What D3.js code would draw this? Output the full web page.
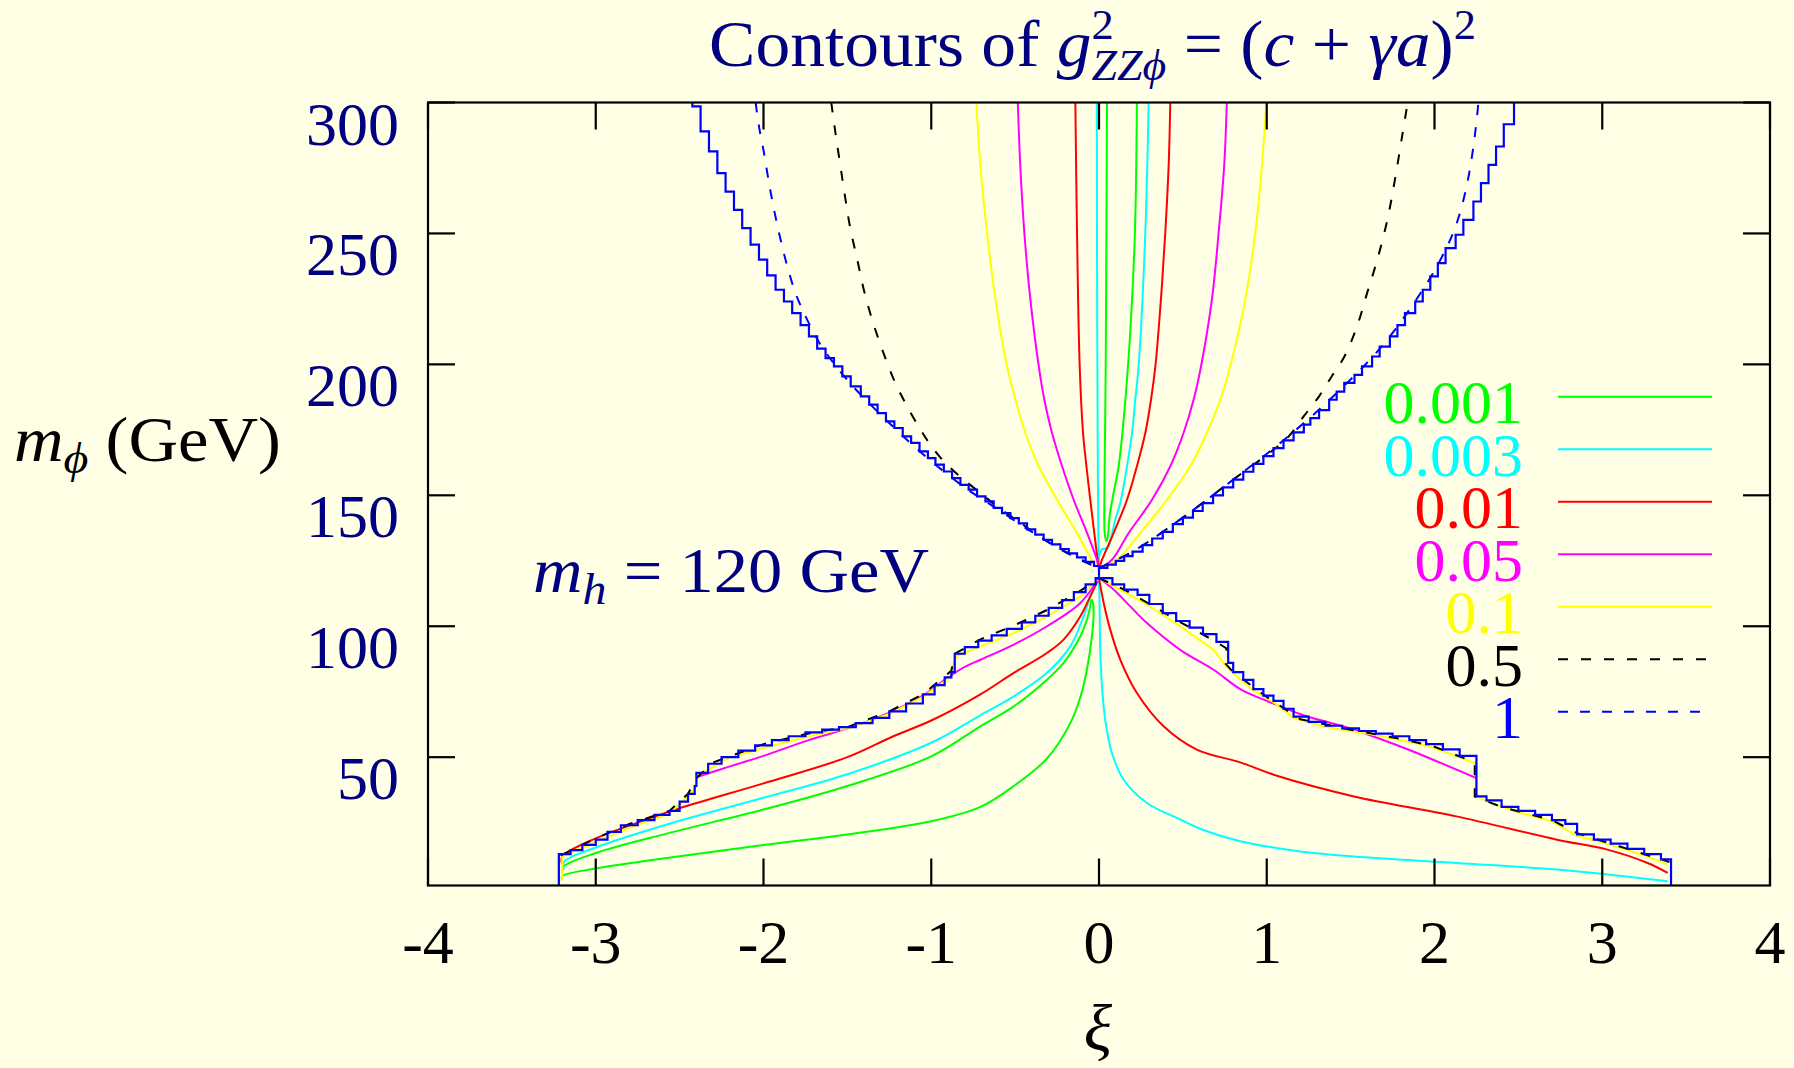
<!DOCTYPE html>
<html><head><meta charset="utf-8">
<script src="https://cdn.jsdelivr.net/npm/d3@7"></script>
<style>body{margin:0;background:#ffffe6;} svg{display:block;} text{white-space:pre;}</style>
</head><body><svg id="c" width="1794" height="1068"></svg>
<script>
// ---------------- data (xi, m_phi in GeV) ----------------
const xTicks = [-4,-3,-2,-1,0,1,2,3,4];
const yTicks = [50,100,150,200,250,300];
const levels = ["0.001","0.003","0.01","0.05","0.1","0.5","1"];

const green_upper = [[0.226,300],[0.214,250.2],[0.186,212],[0.147,178.9],[0.117,161],[0.087,150.9],[0.063,142],[0.053,134.3],[0.045,132.5],[0.034,135.6],[0.032,148.3],[0.036,173.8],[0.04,199.2],[0.044,250.2],[0.048,300]];
const green_lower = [[-3.2,3],[-3.2,4.5],[-3.0,7.5],[-2.5,12.2],[-2.0,16.5],[-1.5,20.5],[-1.0,25.5],[-0.707,31],[-0.508,39],[-0.31,49.5],[-0.171,63],[-0.111,73],[-0.072,83.4],[-0.042,96.2],[-0.032,106],[-0.038,109.5],[-0.045,110.1],[-0.052,107.6],[-0.072,102.5],[-0.111,96.2],[-0.211,86],[-0.31,79.6],[-0.508,69.4],[-0.707,61.8],[-1.0,50.3],[-1.5,39],[-2.0,30],[-2.566,21],[-3.0,13.4],[-3.19,8.3],[-3.2,6]];

const cyan_upper = [[0.296,300],[0.276,250.2],[0.236,199.2],[0.216,186.5],[0.197,173.8],[0.167,161.1],[0.127,147.1],[0.097,140.7],[0.067,132.4],[0.051,129.9],[0.018,129.3],[0.006,128],[0.0,126.5],[-0.004,135],[-0.008,173.8],[-0.012,250],[-0.013,300]];
const cyan_lower_left = [[-3.19,7],[-3.19,10],[-3.0,15.5],[-2.566,24.5],[-2.0,34.5],[-1.5,43.5],[-1.0,55.5],[-0.707,66],[-0.508,73.2],[-0.31,82.2],[-0.171,92.3],[-0.092,103.8],[-0.052,111.4],[-0.032,115.3],[0,118.4]];
const cyan_lower_right = [[0,126.5],[0,118.4],[0.003,110],[0.008,89.8],[0.018,77],[0.037,64.3],[0.077,51.6],[0.147,41.4],[0.286,32.5],[0.484,26.2],[0.618,22.3],[0.842,17.9],[1.2,14],[1.52,12.1],[2.13,9.6],[2.73,7.1],[3.03,5.2],[3.39,2.6]];

const red_upper = [[0.425,300],[0.415,275.6],[0.395,250.2],[0.369,224.7],[0.336,199.2],[0.31,186.5],[0.276,173.8],[0.226,161.1],[0.167,148.3],[0.087,135.6],[0.018,125.4],[0,122.3],[-0.008,125.4],[-0.028,135.6],[-0.052,148.3],[-0.075,161.1],[-0.095,173.8],[-0.115,199.2],[-0.131,250.2],[-0.141,300]];
const red_lower_left = [[-3.2,9],[-3.2,12],[-3.0,19],[-2.75,25],[-2.5,30.5],[-2.0,40],[-1.5,50],[-1.226,58],[-1.0,64],[-0.707,74],[-0.508,82.2],[-0.31,89.8],[-0.211,94.9],[-0.111,103.8],[-0.052,111.4],[0,118.4]];
const red_lower_right = [[0,118.4],[0.028,108.9],[0.067,98.7],[0.127,87.2],[0.226,74.5],[0.385,61.8],[0.583,52.9],[0.842,48],[1.07,42.7],[1.52,35],[2.13,27.4],[2.73,18.5],[3.03,14.7],[3.27,9.6],[3.39,5.8]];

const magenta_upper = [[0.762,300],[0.746,275.6],[0.713,250.2],[0.673,224.7],[0.608,199.2],[0.564,186.5],[0.504,173.8],[0.425,161.1],[0.316,148.3],[0.177,135.6],[0.077,125.4],[0,122.3],[-0.012,125.4],[-0.071,135.6],[-0.151,148.3],[-0.22,161.1],[-0.28,173.8],[-0.326,186.5],[-0.359,199.2],[-0.409,224.7],[-0.445,250.2],[-0.469,275.6],[-0.484,300]];
const magenta_lower_left = [[-2.39,42.5],[-2.2,46.5],[-2.0,50.5],[-1.73,56.5],[-1.5,61],[-1.25,67],[-1.05,73.5],[-0.9,80.5],[-0.8,84.5],[-0.707,87.2],[-0.508,93],[-0.31,100],[-0.111,108.9],[0,118.4]];
const magenta_lower_right = [[0,118.4],[0.087,114],[0.186,107.6],[0.286,101.2],[0.484,91],[0.683,83.4],[0.842,76],[1.0,71.5],[1.22,66],[1.52,60.5],[1.82,53.5],[2.25,42]];

const yellow_upper = [[0.997,300],[0.971,275.6],[0.931,250.2],[0.872,224.7],[0.782,199.2],[0.723,186.5],[0.643,173.8],[0.544,161.1],[0.405,148.3],[0.246,135.6],[0.107,125.4],[0,122.3],[-0.042,125.4],[-0.131,135.6],[-0.25,148.3],[-0.359,161.1],[-0.439,173.8],[-0.498,186.5],[-0.548,199.2],[-0.617,224.7],[-0.667,250.2],[-0.707,275.6],[-0.731,300]];
const yellow_lower_left = [[-3.2,3],[-3.2,12],[-3.0,17.5],[-2.8,23],[-2.56,28.5],[-2.45,35],[-2.41,38],[-2.39,43],[-2.2,50],[-2.0,53.5],[-1.7,58.5],[-1.5,61],[-1.25,66.5],[-1.05,73],[-0.9,80],[-0.85,88.6],[-0.707,92.3],[-0.508,97.4],[-0.31,103.8],[-0.111,111.4],[0,118.4]];
const yellow_lower_right = [[0,118.4],[0.127,114],[0.286,108.3],[0.484,100],[0.683,91],[0.742,86],[0.8,82],[0.92,75.5],[1.04,71],[1.16,65],[1.35,61.5],[1.65,58.5],[1.95,54.5],[2.15,50],[2.25,47.5],[2.25,35.5],[2.31,33],[2.5,29],[2.7,25.5],[2.85,20],[3.05,16.5],[3.25,12.5],[3.39,9]];

const black_upper_left = [[-1.596,300],[-1.571,288.3],[-1.541,275.6],[-1.511,262.9],[-1.481,251.4],[-1.441,240],[-1.402,228.5],[-1.352,217],[-1.292,205.6],[-1.223,194.2],[-1.144,184],[-1.064,175.1],[-0.985,167.5],[-0.906,161.7],[-0.807,156],[-0.707,150.9],[-0.598,145.2],[-0.508,141.3],[-0.3,132],[-0.1,125],[0,122.3]];
const black_upper_right = [[0,122.3],[0.2,128.5],[0.5,141.5],[0.8,156],[1.04,167.4],[1.131,172.5],[1.221,180.2],[1.312,187.8],[1.387,195.4],[1.463,203],[1.538,214.5],[1.598,227.2],[1.659,240],[1.719,255.2],[1.764,270.5],[1.81,288.3],[1.84,300]];
const black_lower_left = [[-3.21,12.5],[-3.0,19],[-2.8,24.5],[-2.56,29.5],[-2.45,36],[-2.4,42],[-2.3,48],[-2.0,55],[-1.7,59.5],[-1.5,61.5],[-1.25,67.5],[-1.05,74],[-0.88,83],[-0.86,89.5],[-0.707,95],[-0.5,100.5],[-0.3,106.5],[-0.1,114],[0,118.4]];
const black_lower_right = [[0,118.4],[0.15,114],[0.3,108.5],[0.5,101],[0.7,94],[0.76,91.5],[0.75,86],[0.8,82.5],[1.0,73],[1.2,64.5],[1.5,60.5],[1.8,57],[2.0,54],[2.2,49],[2.24,47.5],[2.24,35],[2.4,31],[2.7,26],[2.85,21],[3.1,16],[3.4,10]];

const blue_upper_left = [[-2.047,300],[-2.027,290.9],[-1.997,280.7],[-1.967,269.2],[-1.937,259],[-1.898,247.6],[-1.858,237.4],[-1.809,227.2],[-1.759,219.6],[-1.709,213.2],[-1.66,207.5],[-1.5,194],[-1.2,174.5],[-1.0,163],[-0.8,153],[-0.6,144.5],[-0.4,136],[-0.2,128.5],[0,122.3]];
const blue_upper_right = [[0,122.3],[0.2,128.5],[0.5,141.5],[0.8,156],[1.1,171],[1.4,188],[1.7,208],[1.95,230.5],[2.066,243.8],[2.126,252.7],[2.187,266.7],[2.232,283.2],[2.262,300]];

// boundary of the computed region (stepped)
const edge_upper_left = [[-2.45,301],[-2.424,298.5],[-2.375,289],[-2.325,281.3],[-2.275,273],[-2.226,266],[-2.176,259],[-2.127,252],[-2.077,245.7],[-2.027,240],[-1.978,234],[-1.928,228.5],[-1.878,224],[-1.829,219.6],[-1.779,215],[-1.729,210.7],[-1.68,206],[-1.63,202.4],[-1.58,199.2],[-1.53,195.4],[-1.48,191.6],[-1.42,187.8],[-1.37,184.6],[-1.32,181.4],[-1.27,178.2],[-1.22,175.7],[-1.17,172.5],[-1.12,170],[-1.07,166.8],[-1.02,164.2],[-0.975,161.7],[-0.925,159.1],[-0.876,156.6],[-0.826,154],[-0.777,152.2],[-0.727,149.6],[-0.677,147.7],[-0.628,145.2],[-0.578,143.2],[-0.528,141.3],[-0.478,139.3],[-0.429,137],[-0.38,135],[-0.33,133],[-0.28,131.3],[-0.23,129.5],[-0.18,127.8],[-0.131,126.3],[-0.08,124.6],[-0.03,123],[0,122.3]];
const edge_upper_right = [[0,122.3],[0.05,123.5],[0.1,125],[0.15,126.8],[0.2,128.5],[0.26,131],[0.317,133.5],[0.38,136],[0.44,139],[0.5,141.5],[0.56,144],[0.618,147],[0.68,150],[0.739,153],[0.8,156],[0.86,159],[0.92,162],[0.98,165],[1.04,168],[1.1,171],[1.16,174],[1.221,177],[1.26,179.5],[1.312,182.5],[1.372,186.5],[1.417,189.6],[1.462,192.9],[1.523,196],[1.568,199.2],[1.628,203],[1.673,206.8],[1.734,210.7],[1.779,215],[1.824,219.6],[1.885,224],[1.93,228.5],[1.975,233.6],[2.02,238.7],[2.066,244.4],[2.126,249.5],[2.172,255.2],[2.232,262.2],[2.277,269.2],[2.322,276.2],[2.367,283.2],[2.413,291.7],[2.474,301]];
const edge_lower_left = [[-3.22,1.2],[-3.22,13],[-3.15,14.5],[-3.08,16.5],[-3.0,18.5],[-2.93,21.5],[-2.85,24],[-2.75,26],[-2.65,28],[-2.56,29.5],[-2.5,33],[-2.45,36],[-2.41,39],[-2.4,44],[-2.33,47.5],[-2.25,50],[-2.15,52.5],[-2.05,54.5],[-1.95,56.5],[-1.85,58],[-1.75,59.5],[-1.65,60.5],[-1.55,61.5],[-1.45,63],[-1.35,65],[-1.25,67.5],[-1.15,70.5],[-1.05,74],[-0.98,77.5],[-0.92,80.5],[-0.88,82.5],[-0.86,89.5],[-0.8,92],[-0.72,94.5],[-0.64,96.5],[-0.55,99],[-0.46,101.5],[-0.38,104],[-0.3,107],[-0.22,110],[-0.15,113],[-0.08,116],[-0.02,118.4],[0,122.3]];
const edge_lower_right = [[0,118.4],[0.08,116],[0.15,114],[0.23,112],[0.3,108.5],[0.38,105],[0.46,102],[0.54,99.5],[0.62,97],[0.7,94],[0.77,92],[0.77,86],[0.8,82.5],[0.86,79.5],[0.92,76],[0.98,73.5],[1.04,71.5],[1.1,68.5],[1.16,65.5],[1.25,63.5],[1.35,62],[1.45,61],[1.55,60],[1.65,59],[1.75,58],[1.85,56.5],[1.95,55],[2.05,53],[2.15,50.5],[2.25,48],[2.25,35],[2.31,33.5],[2.4,31],[2.5,29.5],[2.6,28],[2.7,26],[2.78,24.5],[2.85,20.5],[2.95,18.5],[3.05,17],[3.15,15],[3.25,13],[3.35,11],[3.41,9.5],[3.41,1.2]];

// ---------------- drawing ----------------
const W = 1794, H = 1068;
const L = 428, R = 1770, T = 102.5, B = 885.5;
const NAVY = "#000080", FONT = "'Liberation Serif','DejaVu Serif',serif", FS = 62;
const styles = {
  "0.001": {c:"#00ff00", d:null}, "0.003": {c:"#00ffff", d:null}, "0.01": {c:"#ff0000", d:null},
  "0.05": {c:"#ff00ff", d:null}, "0.1": {c:"#ffff00", d:null}, "0.5": {c:"#000000", d:"10,13"}, "1": {c:"#0000ff", d:"10,12"}
};
const svg = d3.select("#c");
svg.append("rect").attr("width", W).attr("height", H).attr("fill", "#ffffe6");

const x = d3.scaleLinear().domain([-4, 4]).range([L, R]);
const y = d3.scaleLinear().domain([1, 300]).range([B, T]);

svg.append("clipPath").attr("id","clip").append("rect").attr("x",L).attr("y",T).attr("width",R-L).attr("height",B-T);
const plot = svg.append("g").attr("clip-path","url(#clip)");

const lineSmooth = d3.line().x(d => x(d[0])).y(d => y(d[1])).curve(d3.curveCatmullRom.alpha(0.5));
const lineLin = d3.line().x(d => x(d[0])).y(d => y(d[1]));
const lineStep = d3.line().x(d => x(d[0])).y(d => y(d[1])).curve(d3.curveStepAfter);

const series = [
  ["0.001", [green_upper, green_lower], true],
  ["0.003", [cyan_upper, cyan_lower_left, cyan_lower_right], true],
  ["0.01", [red_upper, red_lower_left, red_lower_right], true],
  ["0.05", [magenta_upper, magenta_lower_left, magenta_lower_right], true],
  ["0.1", [yellow_upper], true],
  ["0.1", [yellow_lower_left, yellow_lower_right], false],
  ["0.5", [black_upper_left, black_upper_right], true],
  ["0.5", [black_lower_left, black_lower_right], false],
  ["1", [blue_upper_left, blue_upper_right], true]
];
series.forEach(([lev, segs, smooth]) => {
  const st = styles[lev];
  segs.forEach(seg => {
    plot.append("path").attr("d", (smooth ? lineSmooth : lineLin)(seg)).attr("fill","none")
      .attr("stroke", st.c).attr("stroke-width", 2).attr("stroke-dasharray", st.d);
  });
});
[edge_upper_left, edge_upper_right, edge_lower_left, edge_lower_right].forEach(seg => {
  plot.append("path").attr("d", lineStep(seg)).attr("fill","none")
    .attr("stroke", "#0000ff").attr("stroke-width", 2.2);
});

// frame + inward ticks
const axes = svg.append("g").attr("stroke","#000").attr("stroke-width",2.2);
axes.append("rect").attr("x",L).attr("y",T).attr("width",R-L).attr("height",B-T).attr("fill","none");
const TL = 27;
xTicks.forEach(v => {
  axes.append("line").attr("x1",x(v)).attr("x2",x(v)).attr("y1",B).attr("y2",B-TL);
  axes.append("line").attr("x1",x(v)).attr("x2",x(v)).attr("y1",T).attr("y2",T+TL);
});
yTicks.forEach(v => {
  axes.append("line").attr("x1",L).attr("x2",L+TL).attr("y1",y(v)).attr("y2",y(v));
  axes.append("line").attr("x1",R).attr("x2",R-TL).attr("y1",y(v)).attr("y2",y(v));
});

const txt = svg.append("g").attr("font-family", FONT).attr("font-size", FS);
xTicks.forEach(v => {
  txt.append("text").attr("x", x(v)).attr("y", 963).attr("text-anchor","middle").attr("fill","#000").text(String(v));
});
yTicks.forEach(v => {
  txt.append("text").attr("x", 399).attr("y", y(v) + 42).attr("text-anchor","end").attr("fill",NAVY).text(String(v));
});

// rich text helper: lays out pieces left to right, optional horizontal fit to a width
function rich(px, py, parts, fill, size, width) {
  const g = txt.append("g");
  let cx = 0, prevStart = 0;
  parts.forEach(p => {
    const start = p.stack ? prevStart : cx;
    const t = g.append("text").attr("x", start).attr("y", p.dy || 0)
      .attr("font-size", size * (p.s || 1)).attr("font-style", p.it ? "italic" : "normal")
      .attr("fill", fill).text(p.t);
    const w = t.node().getComputedTextLength();
    cx = p.stack ? Math.max(cx, start + w) : start + w;
    prevStart = start;
  });
  const k = width ? width / cx : 1;
  g.attr("transform", `translate(${px},${py}) scale(${k},1)`);
}

rich(709, 66, [
  {t:"Contours of "}, {t:"g", it:true}, {t:"2", s:0.64, dy:-27}, {t:"ZZ\u03D5", it:true, s:0.66, dy:14, stack:true},
  {t:" = ("}, {t:"c", it:true}, {t:" + "}, {t:"\u03B3a", it:true}, {t:")"}, {t:"2", s:0.64, dy:-27}
], NAVY, 66, 767);

rich(14, 461, [{t:"m", it:true}, {t:"\u03D5", it:true, s:0.7, dy:12}, {t:" (GeV)"}], "#000", 64, 267);
rich(533, 592, [{t:"m", it:true}, {t:"h", it:true, s:0.7, dy:12}, {t:" = 120 GeV"}], NAVY, 64, 396);
txt.append("text").attr("x", 1098).attr("y", 1050).attr("text-anchor","middle").attr("font-style","italic")
  .attr("font-size", 66).attr("fill","#000").text("\u03BE");

// legend
levels.forEach((lev, i) => {
  const st = styles[lev];
  const ly = 396.7 + 52.5 * i;
  txt.append("text").attr("x", 1523).attr("y", ly + 26.5).attr("text-anchor","end").attr("fill", st.c).text(lev);
  svg.append("line").attr("x1",1558).attr("x2",1712).attr("y1",ly).attr("y2",ly)
    .attr("stroke", st.c).attr("stroke-width", 2).attr("stroke-dasharray", st.d);
});
</script></body></html>
